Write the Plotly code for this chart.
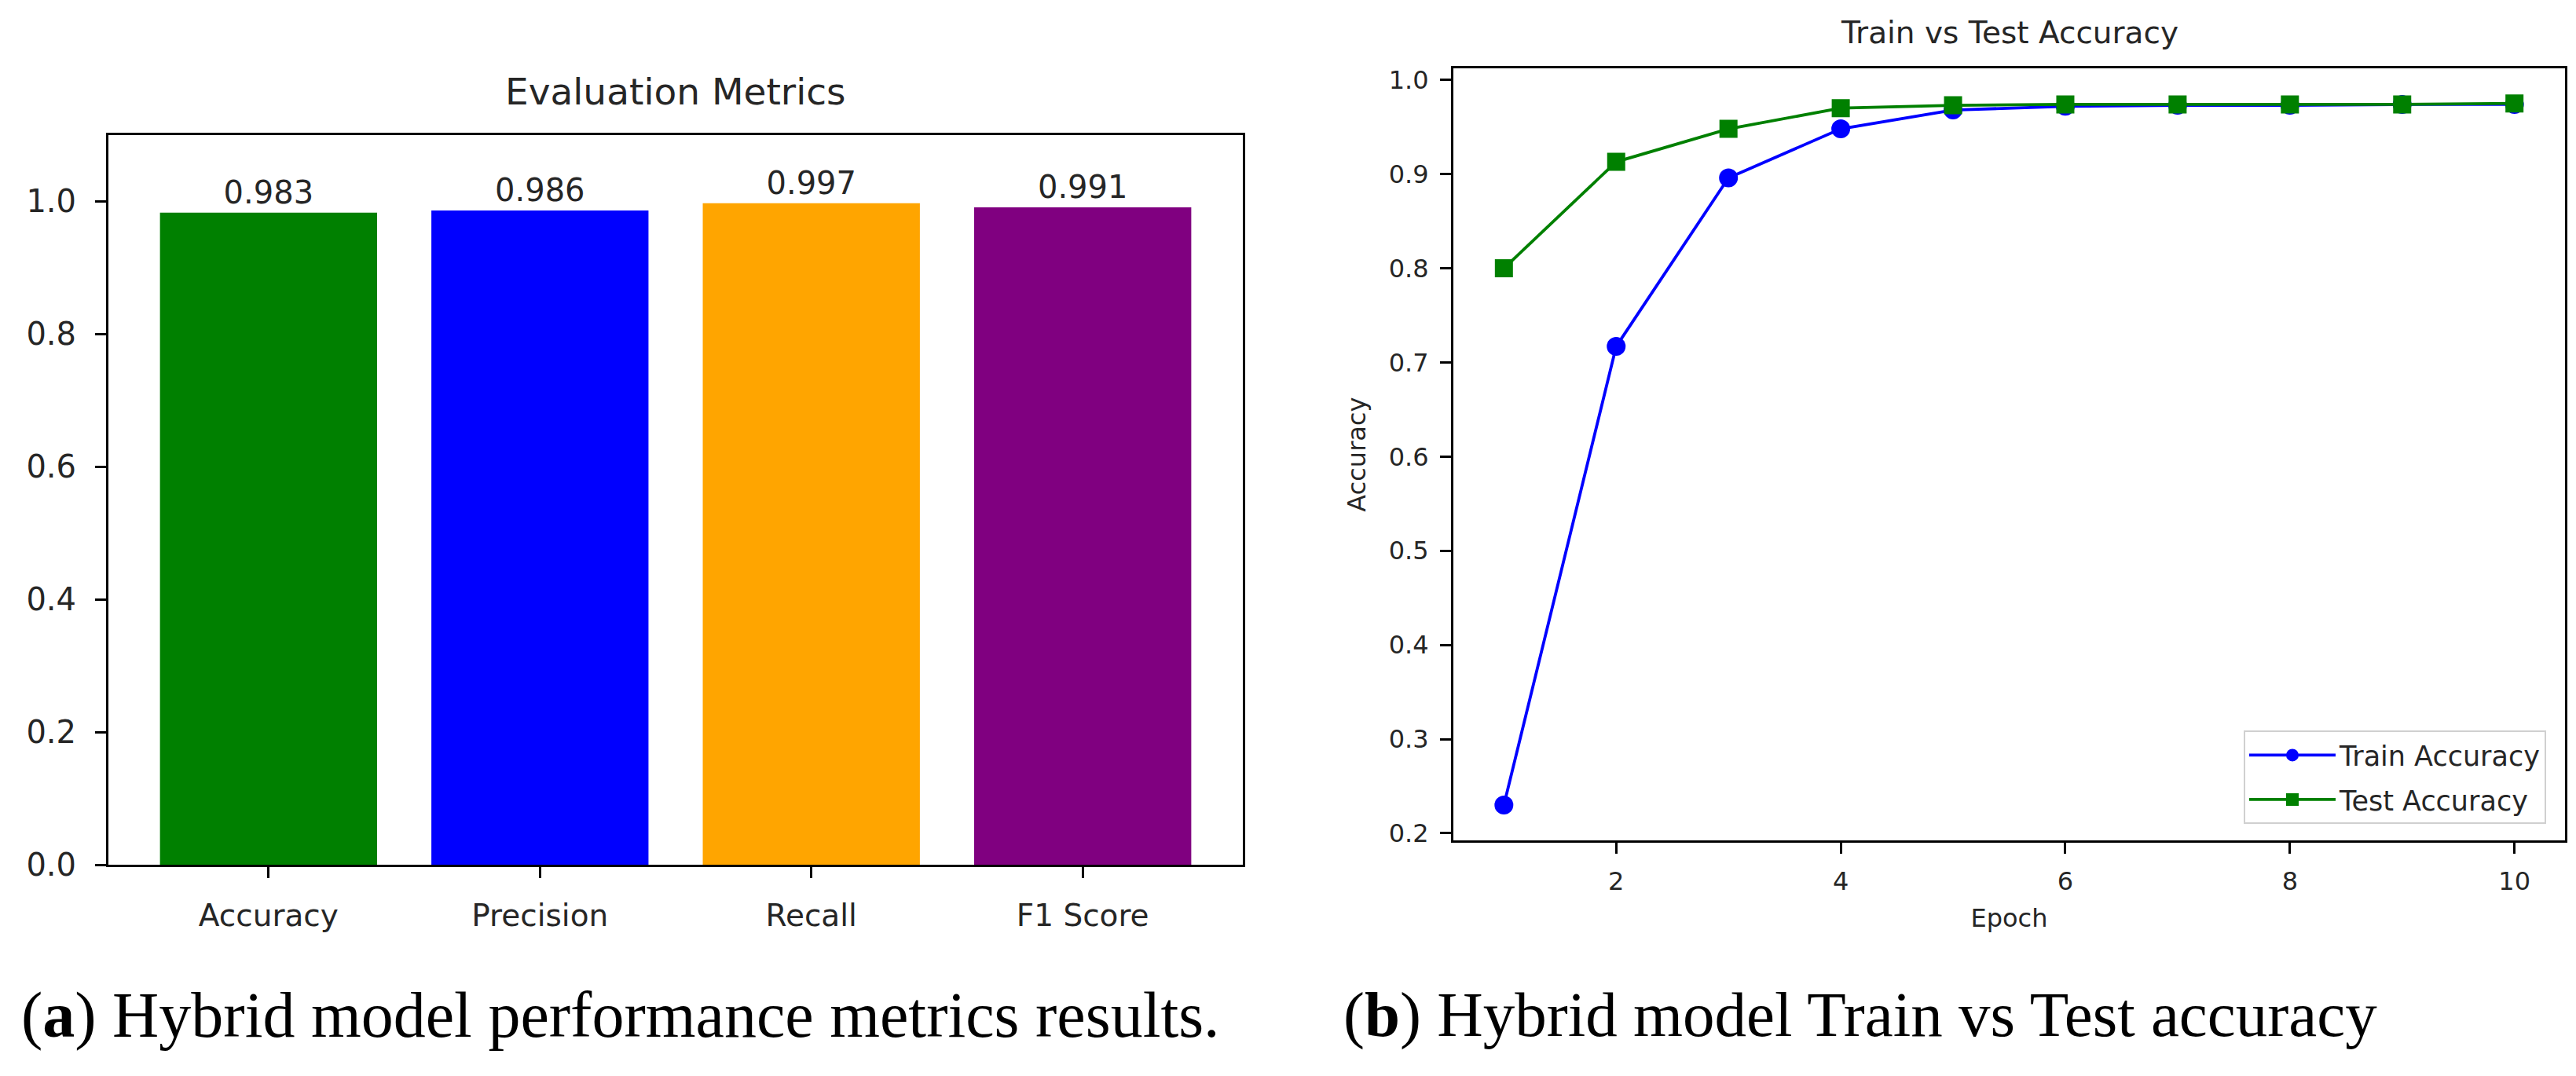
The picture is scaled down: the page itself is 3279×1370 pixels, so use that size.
import plotly.graph_objects as go

W, H = 3279, 1370

# --- data -------------------------------------------------------------
metric_names = ["Accuracy", "Precision", "Recall", "F1 Score"]
metric_values = [0.983, 0.986, 0.997, 0.991]
metric_colors = ["green", "blue", "orange", "purple"]

epochs = [1, 2, 3, 4, 5, 6, 7, 8, 9, 10]
train_acc = [0.230, 0.717, 0.896, 0.948, 0.968, 0.972, 0.973, 0.973, 0.974, 0.974]
test_acc = [0.800, 0.913, 0.948, 0.970, 0.973, 0.974, 0.974, 0.974, 0.974, 0.975]

SANS = "DejaVu Sans"
SERIF = "Liberation Serif"
INK = "#262626"


def px_x(v):
    return v / W


def px_y(v):
    return 1 - v / H


fig = go.Figure()

# (a) bar chart of metrics
fig.add_trace(go.Bar(
    x=metric_names, y=metric_values,
    marker=dict(color=metric_colors, line=dict(width=0)),
    width=0.8,
    texttemplate="%{y:.3f}", textposition="outside",
    textfont=dict(family=SANS, size=40, color=INK),
    cliponaxis=False, showlegend=False,
    xaxis="x", yaxis="y",
))

# (b) train vs test accuracy
fig.add_trace(go.Scatter(
    x=epochs, y=train_acc, name="Train Accuracy", mode="lines+markers",
    line=dict(color="blue", width=3.8),
    marker=dict(symbol="circle", size=24, color="blue"),
    legendgroup="train",
    xaxis="x2", yaxis="y2",
))
fig.add_trace(go.Scatter(
    x=epochs, y=test_acc, name="Test Accuracy", mode="lines+markers",
    line=dict(color="green", width=3.8),
    marker=dict(symbol="square", size=23, color="green"),
    legendgroup="test",
    xaxis="x2", yaxis="y2",
))

axis_common = dict(
    showline=True, mirror=True, linecolor="black", linewidth=3,
    ticks="outside", ticklen=14, tickwidth=3, tickcolor="black",
    showgrid=False, zeroline=False,
)

fig.update_layout(
    width=W, height=H,
    margin=dict(l=0, r=0, t=0, b=0),
    paper_bgcolor="white", plot_bgcolor="white",
    xaxis=dict(
        domain=[px_x(130), px_x(1574)], anchor="y",
        range=[-0.59, 3.59], ticklabelstandoff=14,
        tickfont=dict(family=SANS, size=39, color=INK),
        **axis_common,
    ),
    yaxis=dict(
        domain=[px_y(1111), px_y(163)], anchor="x",
        range=[0, 1.1], tickvals=[0, 0.2, 0.4, 0.6, 0.8, 1.0], tickformat=".1f",
        ticklabelstandoff=16,
        tickfont=dict(family=SANS, size=40, color=INK),
        **axis_common,
    ),
    xaxis2=dict(
        domain=[px_x(1842), px_x(3257)], anchor="y2",
        range=[0.55, 10.45], tickvals=[2, 4, 6, 8, 10], ticklabelstandoff=8,
        tickfont=dict(family=SANS, size=32, color=INK),
        title=dict(text="Epoch", font=dict(family=SANS, size=32, color=INK), standoff=18),
        **axis_common,
    ),
    yaxis2=dict(
        domain=[px_y(1079), px_y(77)], anchor="x2",
        range=[0.1927, 1.0119], dtick=0.1, tickformat=".1f", ticklabelstandoff=8,
        tickfont=dict(family=SANS, size=32, color=INK),
        title=dict(text="Accuracy", font=dict(family=SANS, size=32, color=INK), standoff=20),
        **axis_common,
    ),
    legend=dict(
        x=px_x(3233), xanchor="right", y=px_y(1058), yanchor="bottom",
        bgcolor="white", bordercolor="#d0d0d0", borderwidth=2,
        font=dict(family=SANS, size=35, color=INK),
        itemwidth=110, tracegroupgap=8, itemsizing="trace",
    ),
    annotations=[
        dict(text="Evaluation Metrics", x=px_x(852), y=px_y(137),
             xref="paper", yref="paper", xanchor="center", yanchor="bottom",
             showarrow=False, font=dict(family=SANS, size=47, color=INK)),
        dict(text="Train vs Test Accuracy", x=px_x(2550), y=px_y(55),
             xref="paper", yref="paper", xanchor="center", yanchor="bottom",
             showarrow=False, font=dict(family=SANS, size=39, color=INK)),
        dict(text="(<b>a</b>) Hybrid model performance metrics results.",
             x=px_x(17), y=px_y(1306), xref="paper", yref="paper",
             xanchor="left", yanchor="middle", showarrow=False,
             font=dict(family=SERIF, size=82, color="black")),
        dict(text="(<b>b</b>) Hybrid model Train vs Test accuracy",
             x=px_x(1700), y=px_y(1306), xref="paper", yref="paper",
             xanchor="left", yanchor="middle", showarrow=False,
             font=dict(family=SERIF, size=81, color="black")),
    ],
)

fig.write_html("out.html")
